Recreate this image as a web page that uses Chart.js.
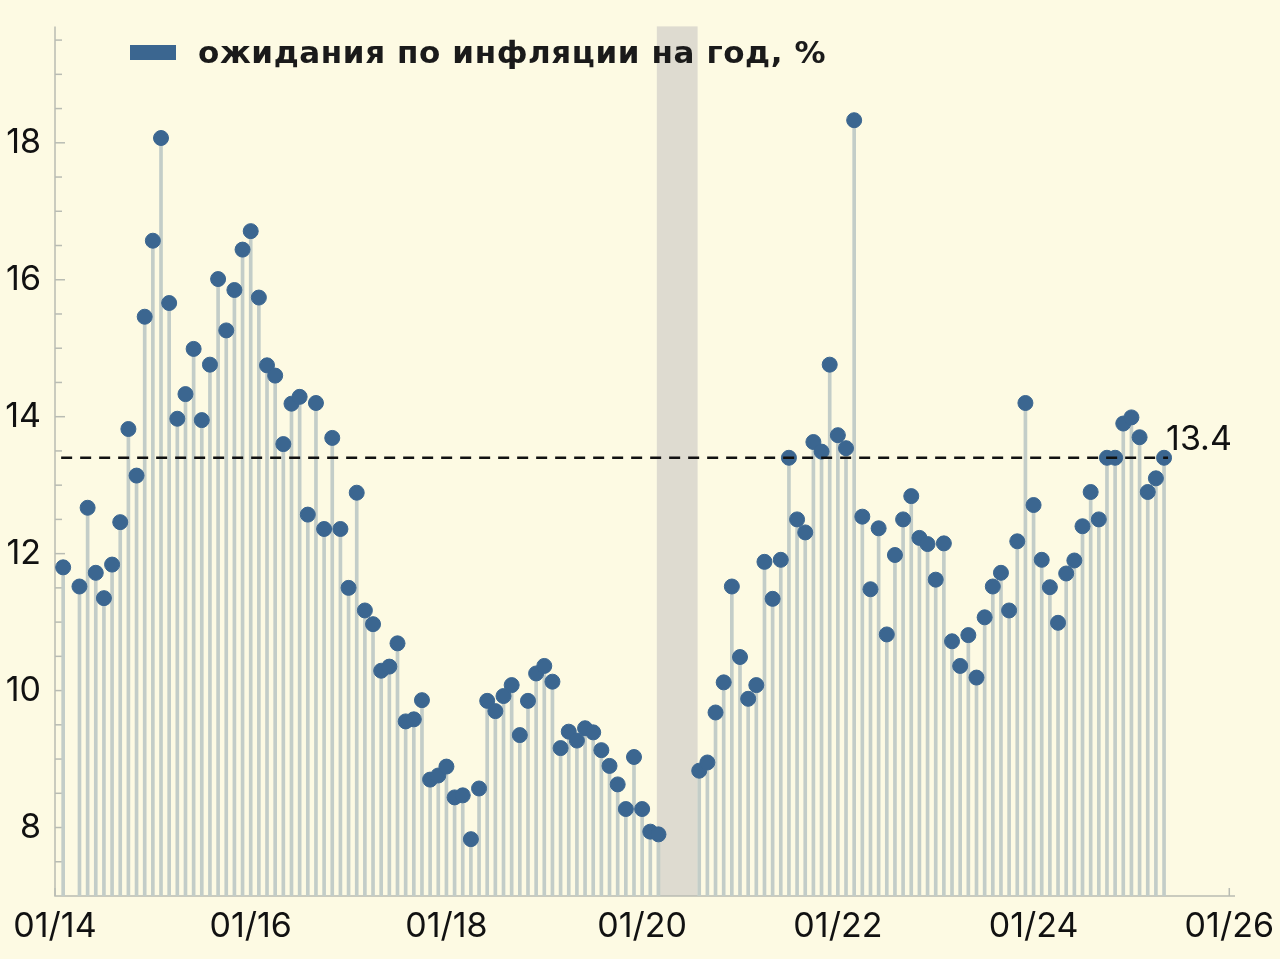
<!DOCTYPE html>
<html><head><meta charset="utf-8">
<script src="https://cdn.jsdelivr.net/npm/chart.js@4.4.1/dist/chart.umd.min.js"></script>
<style>
html,body{margin:0;padding:0;background:#fdfae3;}
#wrap{position:relative;width:1280px;height:959px;}
#legend{position:absolute;left:130px;top:34px;font:700 31px "DejaVu Sans",sans-serif;color:#1a1a1a;display:flex;align-items:center;letter-spacing:0.6px}
#legend span.box{display:inline-block;width:46px;height:15px;background:#3b6690;margin-right:22px}
</style></head>
<body><div id="wrap"><canvas id="c" width="1280" height="959"></canvas>
<div id="legend"><span class="box"></span>ожидания по инфляции на год, %</div></div>
<script>
// month index: 0 = 01/2014
const months = [1,3,4,5,6,7,8,9,10,11,12,13,14,15,16,17,18,19,20,21,22,23,24,25,26,27,28,29,30,31,32,33,34,35,36,37,38,39,40,41,42,43,44,45,46,47,48,49,50,51,52,53,54,55,56,57,58,59,60,61,62,63,64,65,66,67,68,69,70,71,72,73,74,
79,80,81,82,83,84,85,86,87,88,89,90,91,92,93,94,95,96,97,98,99,100,101,102,103,104,105,106,107,108,109,110,111,112,113,114,115,116,117,118,119,120,121,122,123,124,125,126,127,128,129,130,131,132,133,134,135,136];
const values = [11.8,11.52,12.67,11.72,11.35,11.84,12.46,13.82,13.14,15.46,16.57,18.07,15.66,13.97,14.33,14.99,13.95,14.76,16.01,15.26,15.85,16.44,16.71,15.74,14.75,14.6,13.6,14.19,14.29,12.57,14.2,12.36,13.69,12.36,11.5,12.89,11.17,10.97,10.29,10.35,10.69,9.55,9.58,9.86,8.7,8.76,8.89,8.44,8.47,7.83,8.57,9.85,9.7,9.92,10.08,9.35,9.85,10.25,10.36,10.13,9.16,9.4,9.27,9.45,9.39,9.13,8.9,8.63,8.27,9.03,8.27,7.94,7.9,
8.83,8.95,9.68,10.12,11.52,10.49,9.88,10.08,11.88,11.34,11.91,13.4,12.5,12.31,13.63,13.49,14.76,13.73,13.54,18.33,12.54,11.48,12.37,10.82,11.98,12.5,12.84,12.23,12.14,11.62,12.15,10.72,10.36,10.81,10.19,11.07,11.52,11.72,11.17,12.18,14.2,12.71,11.91,11.51,10.99,11.71,11.9,12.4,12.9,12.5,13.4,13.4,13.9,13.99,13.7,12.9,13.1,13.4];
const refValue = 13.4;
const shadeFrom = 73.8, shadeTo = 78.8;
const yTickLabels = [8,10,12,14,16,18];
const xTickMonths = [0,12,24,36,48,60,72,84,96,108,120,132,144];

const pts = months.map((m,i)=>({x:m,y:values[i]}));

const deco = {
  id:'deco',
  beforeDatasetsDraw(ch){
    const {ctx,chartArea:a,scales:{x,y}} = ch;
    ctx.save();
    ctx.fillStyle='#dedbd0';
    const x1=x.getPixelForValue(shadeFrom), x2=x.getPixelForValue(shadeTo);
    ctx.fillRect(x1,a.top,x2-x1,a.bottom-a.top);
    ctx.strokeStyle='#b9bcb3'; ctx.lineWidth=1.5;
    ctx.beginPath(); ctx.moveTo(a.left,a.top); ctx.lineTo(a.left,a.bottom); ctx.lineTo(a.right,a.bottom); ctx.stroke();
    for(let v=7.5; v<=19.5; v+=0.5){
      const py=y.getPixelForValue(v);
      const len = (v%2===0)?10:7;
      ctx.beginPath(); ctx.moveTo(a.left,py); ctx.lineTo(a.left+len,py); ctx.stroke();
    }
    for(const m of xTickMonths){
      const px=x.getPixelForValue(m);
      ctx.beginPath(); ctx.moveTo(px,a.bottom); ctx.lineTo(px,a.bottom-8); ctx.stroke();
    }
    ctx.restore();
  },
  afterDatasetsDraw(ch){
    const {ctx,scales:{x,y}} = ch;
    ctx.save();
    const py=y.getPixelForValue(refValue);
    ctx.strokeStyle='#111'; ctx.lineWidth=2.5; ctx.setLineDash([11,8]);
    ctx.beginPath(); ctx.moveTo(x.getPixelForValue(1)-2,py); ctx.lineTo(x.getPixelForValue(136)+4,py); ctx.stroke();
    ctx.setLineDash([]);
    ctx.fillStyle='#111'; ctx.font='34px Inter, sans-serif'; ctx.textBaseline='middle';
    ctx.fillText(String(refValue), x.getPixelForValue(136)+2, py-18);
    ctx.restore();
  }
};

new Chart(document.getElementById('c'),{
  data:{datasets:[
    {type:'scatter',data:pts,backgroundColor:'#3b6690',borderColor:'#3b6690',pointRadius:7.5,pointHoverRadius:7.5,order:0},
    {type:'bar',data:pts,backgroundColor:'#c3cdc8',barThickness:3,base:7,order:1}
  ]},
  options:{
    responsive:false,animation:false,
    layout:{padding:{top:-5,right:45,left:0,bottom:0}},
    plugins:{legend:{display:false},tooltip:{enabled:false}},
    scales:{
      x:{type:'linear',min:0,max:144.7,offset:false,
        grid:{display:false},border:{display:false},
        afterBuildTicks(s){s.ticks=xTickMonths.map(v=>({value:v}));},
        afterFit(s){s.height=63;},
        ticks:{color:'#111',font:{family:'Inter',size:34},maxRotation:0,autoSkip:false,padding:2,
          callback:v=>(v%24===0)?'01/'+(14+v/12):''}},
      y:{type:'linear',min:7,max:19.7,
        grid:{display:false},border:{display:false},
        afterBuildTicks(s){s.ticks=yTickLabels.map(v=>({value:v}));},
        afterFit(s){s.width=55;},
        ticks:{color:'#111',font:{family:'Inter',size:34},padding:6}}
    }
  },
  plugins:[deco]
});
</script></body></html>
